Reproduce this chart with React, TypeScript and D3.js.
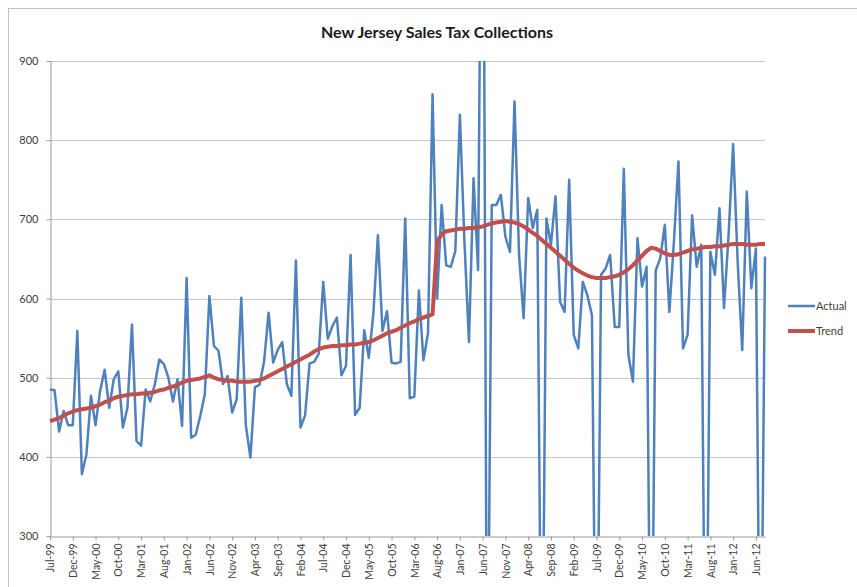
import React, { useEffect, useRef } from "react";
import * as d3 from "d3";

// monthly collections, $ millions, Jul-99 .. Aug-12
const actual: number[] = [
  485, 484, 432, 458, 440, 440, 559, 378, 403, 477, 440, 483,
  510, 462, 498, 508, 437, 462, 567, 420, 414, 485, 470, 491,
  523, 517, 500, 470, 498, 439, 626, 424, 428, 452, 479, 603,
  540, 534, 492, 502, 456, 473, 601, 440, 399, 488, 491, 520,
  582, 519, 535, 545, 492, 477, 648, 437, 452, 518, 520, 530,
  621, 549, 565, 576, 503, 515, 655, 453, 462, 560, 525, 580,
  680, 559, 584, 519, 518, 520, 701, 474, 476, 610, 522, 556,
  858, 600, 718, 642, 640, 660, 832, 672, 545, 752, 636, 1400,
  0, 718, 718, 731, 678, 659, 849, 655, 575, 727, 689, 712,
  0, 701, 668, 729, 596, 583, 750, 554, 537, 621, 604, 579,
  0, 630, 638, 655, 564, 564, 764, 529, 495, 676, 615, 640,
  0, 635, 651, 693, 583, 672, 773, 537, 554, 705, 640, 668,
  0, 659, 630, 714, 588, 680, 795, 646, 535, 735, 613, 663,
  0, 653,
];

const trend: number[] = [
  445, 447, 449, 452, 455, 457, 459, 460, 461, 462, 464, 466,
  469, 471, 474, 476, 477, 478, 479, 479, 480, 480, 481, 482,
  484, 485, 487, 489, 491, 494, 496, 497, 498, 499, 501, 503,
  500, 498, 497, 496, 496, 495, 495, 495, 495, 496, 497, 499,
  502, 505, 508, 511, 514, 517, 520, 523, 526, 529, 533, 536,
  538, 539, 540, 540, 541, 541, 542, 542, 543, 544, 545, 547,
  550, 553, 556, 558, 560, 563, 566, 569, 571, 574, 576, 578,
  580, 672, 681, 685, 686, 687, 688, 688, 689, 689, 690, 691,
  693, 695, 696, 697, 698, 697, 696, 694, 691, 687, 683, 679,
  674, 669, 664, 659, 654, 649, 644, 639, 635, 632, 629, 627,
  626, 626, 626, 627, 628, 630, 633, 637, 642, 648, 654, 660,
  664, 663, 660, 657, 655, 655, 656, 658, 660, 662, 663, 664,
  665, 665, 666, 666, 667, 668, 669, 669, 669, 668, 668, 668,
  669, 669,
];

const tickLabels = [
  "Jul-99", "Dec-99", "May-00", "Oct-00", "Mar-01", "Aug-01", "Jan-02", "Jun-02",
  "Nov-02", "Apr-03", "Sep-03", "Feb-04", "Jul-04", "Dec-04", "May-05", "Oct-05",
  "Mar-06", "Aug-06", "Jan-07", "Jun-07", "Nov-07", "Apr-08", "Sep-08", "Feb-09",
  "Jul-09", "Dec-09", "May-10", "Oct-10", "Mar-11", "Aug-11", "Jan-12", "Jun-12",
];

const yTicks = [300, 400, 500, 600, 700, 800, 900];

const months = d3
  .timeMonth.range(new Date(1999, 6, 1), new Date(2012, 8, 1))
  .map(d3.timeFormat("%b-%y"));

const App: React.FC = () => {
  const svgRef = useRef<SVGSVGElement | null>(null);

  useEffect(() => {
    if (!svgRef.current) return;
    document.body.style.margin = "0";

    const width = 857;
    const height = 587;
    const plotLeft = 50;
    const plotRight = 765;
    const plotTop = 61;
    const plotBottom = 536;
    const font = "Lato, 'Open Sans', sans-serif";
    const textColor = "#404040";

    const x = d3.scalePoint<string>().domain(months).range([plotLeft, plotRight]);
    const y = d3.scaleLinear().domain([300, 900]).range([plotBottom, plotTop]);

    const svg = d3
      .select(svgRef.current)
      .attr("width", width)
      .attr("height", height)
      .attr("viewBox", [0, 0, width, height])
      .style("display", "block")
      .style("font-family", font);

    // chart frame
    svg
      .append("rect")
      .attr("x", 8.5)
      .attr("y", 8.5)
      .attr("width", width + 20)
      .attr("height", height + 20)
      .attr("fill", "#ffffff")
      .attr("stroke", "#bfbfbf");

    // title
    svg
      .append("text")
      .attr("x", 437)
      .attr("y", 38)
      .attr("text-anchor", "middle")
      .attr("font-size", 16)
      .attr("font-weight", "bold")
      .attr("fill", "#1a1a1a")
      .text("New Jersey Sales Tax Collections");

    // gridlines
    svg
      .append("g")
      .selectAll("line")
      .data(yTicks.slice(1))
      .join("line")
      .attr("x1", plotLeft)
      .attr("x2", plotRight)
      .attr("y1", (d) => Math.round(y(d)) + 0.5)
      .attr("y2", (d) => Math.round(y(d)) + 0.5)
      .attr("stroke", "#c6c6c6");

    // y axis
    svg
      .append("g")
      .attr("transform", `translate(${plotLeft + 0.5},0)`)
      .call(d3.axisLeft(y).tickValues(yTicks).tickSize(4).tickPadding(8).tickSizeOuter(0))
      .call((g) => g.select(".domain").attr("stroke", "#9a9a9a"))
      .call((g) => g.selectAll(".tick line").attr("stroke", "#9a9a9a"))
      .call((g) =>
        g
          .selectAll(".tick text")
          .attr("font-size", 11)
          .attr("font-family", font)
          .attr("fill", textColor)
      );

    // x axis
    svg
      .append("g")
      .attr("transform", `translate(0,${plotBottom + 0.5})`)
      .call(d3.axisBottom(x).tickValues(tickLabels).tickSize(4).tickSizeOuter(0))
      .call((g) => g.select(".domain").attr("stroke", "#9a9a9a"))
      .call((g) => g.selectAll(".tick line").attr("stroke", "#9a9a9a"))
      .call((g) =>
        g
          .selectAll(".tick text")
          .attr("transform", "rotate(-90)")
          .attr("text-anchor", "end")
          .attr("x", -7)
          .attr("y", 0)
          .attr("dy", "0.35em")
          .attr("font-size", 10.5)
          .attr("font-family", font)
          .attr("fill", textColor)
      );

    // clip to plot area
    const clipId = "plot-clip";
    svg
      .append("clipPath")
      .attr("id", clipId)
      .append("rect")
      .attr("x", plotLeft - 5)
      .attr("y", plotTop)
      .attr("width", plotRight - plotLeft + 10)
      .attr("height", plotBottom - plotTop);

    const line = d3
      .line<number>()
      .x((_, i) => x(months[i])!)
      .y((d) => y(d));

    const plot = svg.append("g").attr("clip-path", `url(#${clipId})`);

    plot
      .append("path")
      .datum(actual)
      .attr("fill", "none")
      .attr("stroke", "#4F81BD")
      .attr("stroke-width", 2.5)
      .attr("stroke-linejoin", "round")
      .attr("d", line);

    plot
      .append("path")
      .datum(trend)
      .attr("fill", "none")
      .attr("stroke", "#C0504D")
      .attr("stroke-width", 4)
      .attr("stroke-linejoin", "round")
      .attr("d", line);

    // legend
    const legend = svg.append("g").attr("transform", "translate(788,0)");
    const items = [
      { name: "Actual", color: "#4F81BD", w: 2.5, y: 306 },
      { name: "Trend", color: "#C0504D", w: 4, y: 331 },
    ];
    items.forEach((it) => {
      legend
        .append("line")
        .attr("x1", 0)
        .attr("x2", 27)
        .attr("y1", it.y)
        .attr("y2", it.y)
        .attr("stroke", it.color)
        .attr("stroke-width", it.w);
      legend
        .append("text")
        .attr("x", 28)
        .attr("y", it.y)
        .attr("dy", "0.35em")
        .attr("font-size", 11)
        .attr("fill", textColor)
        .text(it.name);
    });

    return () => {
      svg.selectAll("*").remove();
    };
  }, []);

  return <svg ref={svgRef}></svg>;
};

export default App;
